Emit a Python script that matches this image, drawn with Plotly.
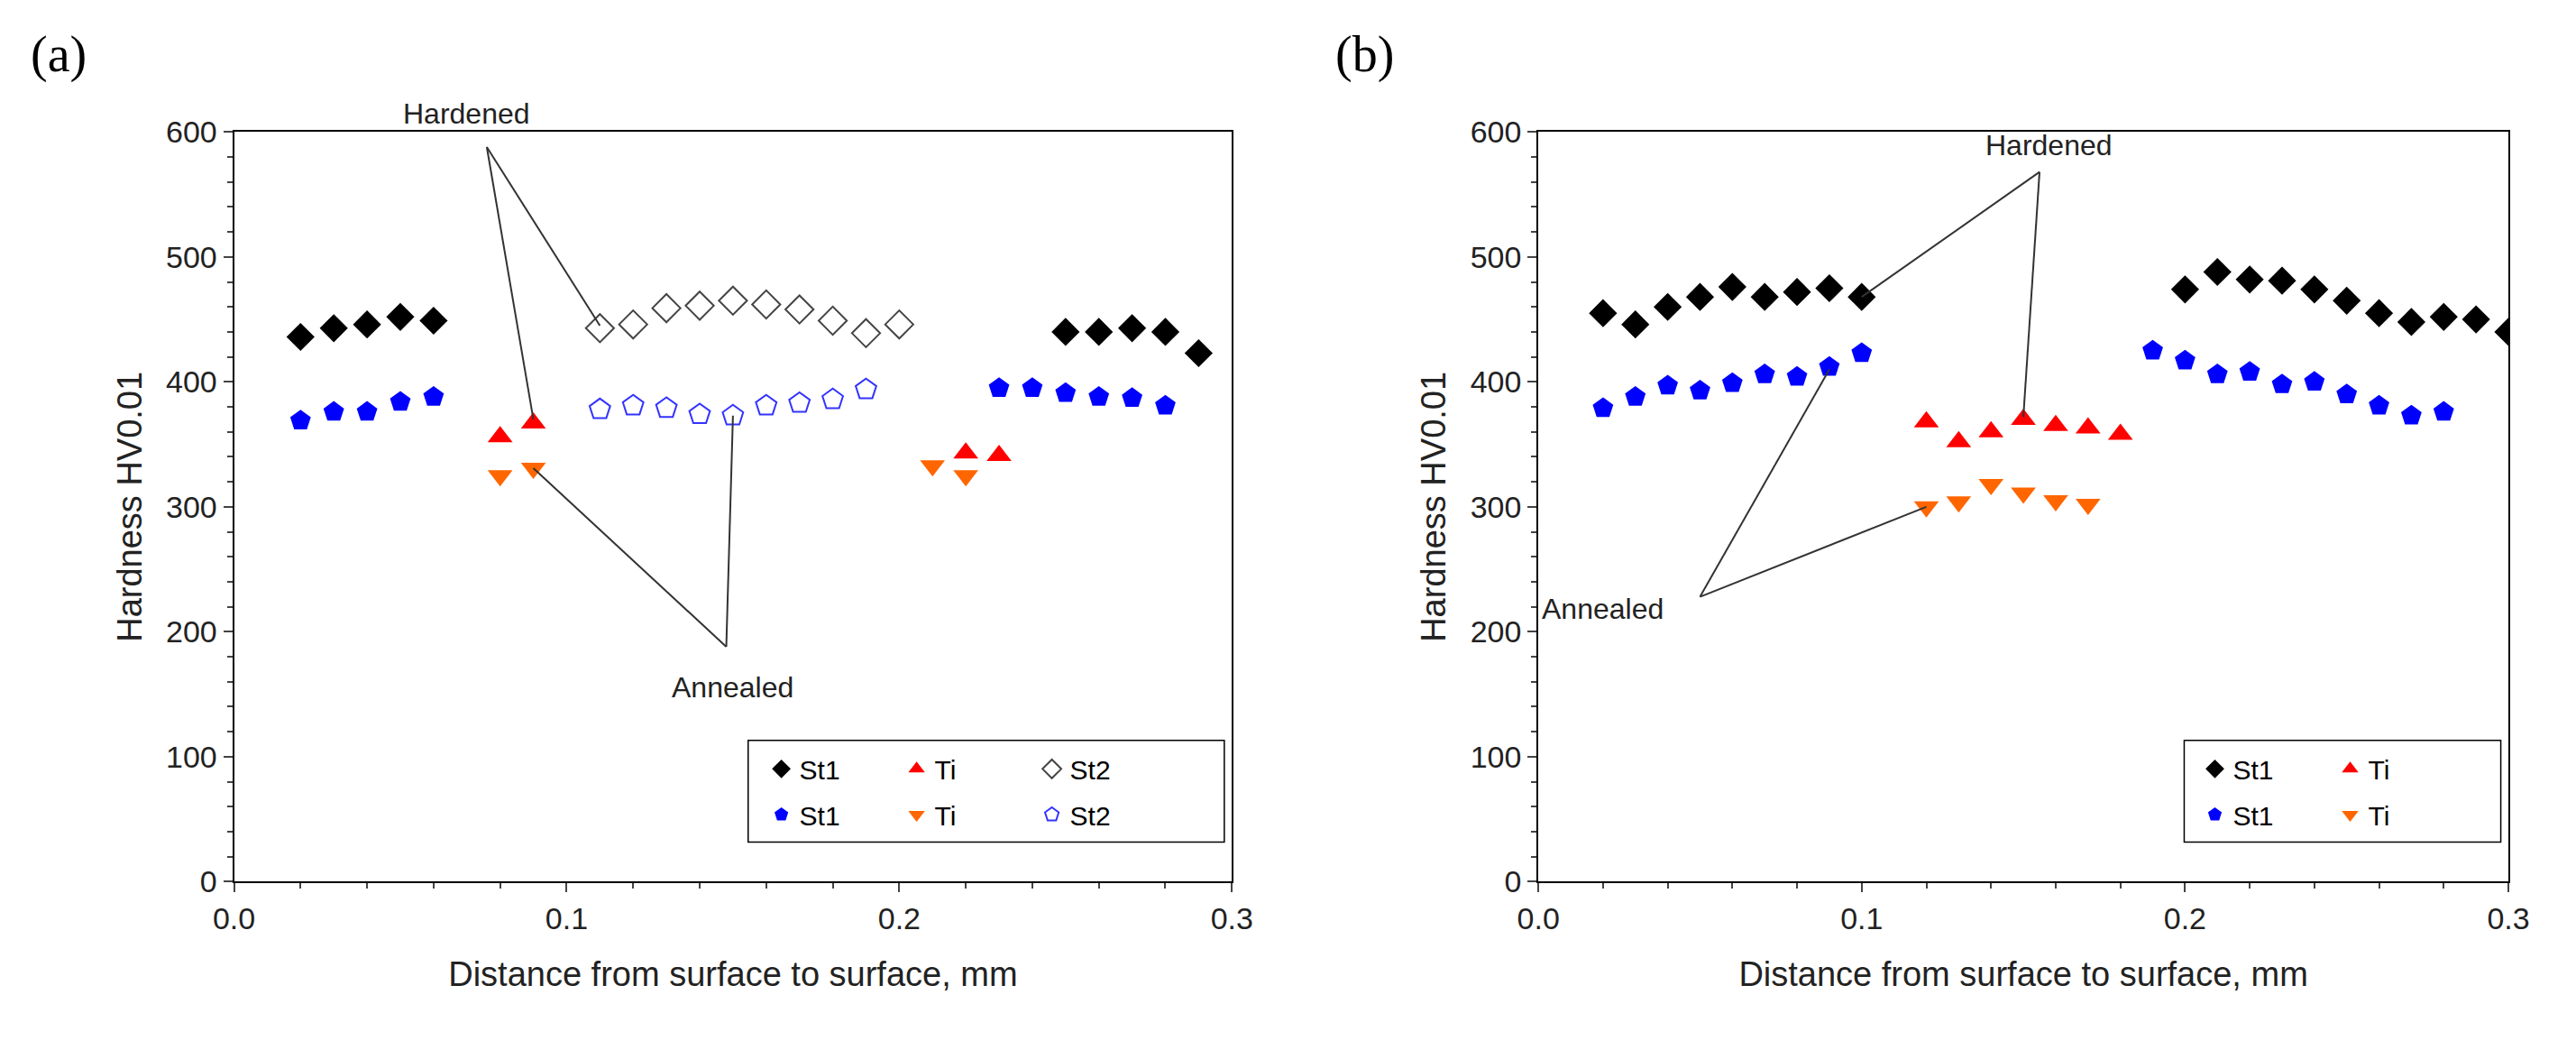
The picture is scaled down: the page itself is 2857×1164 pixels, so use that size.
import plotly.graph_objects as go

# panel (a)
a_st1_h_x = [0.02, 0.03, 0.04, 0.05, 0.06, 0.25, 0.26, 0.27, 0.28, 0.29]
a_st1_h_y = [436, 443, 446, 452, 449, 440, 440, 443, 440, 423]
a_st1_a_x = [0.02, 0.03, 0.04, 0.05, 0.06, 0.23, 0.24, 0.25, 0.26, 0.27, 0.28]
a_st1_a_y = [369, 376, 376, 384, 388, 395, 395, 391, 388, 387, 381]
a_ti_h_x = [0.08, 0.09, 0.22, 0.23]
a_ti_h_y = [356, 367, 343, 341]
a_ti_a_x = [0.08, 0.09, 0.21, 0.22]
a_ti_a_y = [325, 331, 333, 325]
a_st2_h_x = [0.11, 0.12, 0.13, 0.14, 0.15, 0.16, 0.17, 0.18, 0.19, 0.20]
a_st2_h_y = [443, 446, 459, 461, 465, 462, 458, 449, 439, 446]
a_st2_a_x = [0.11, 0.12, 0.13, 0.14, 0.15, 0.16, 0.17, 0.18, 0.19]
a_st2_a_y = [378, 381, 379, 374, 373, 381, 383, 386, 394]

# panel (b)
b_st1_h_x = [0.02, 0.03, 0.04, 0.05, 0.06, 0.07, 0.08, 0.09, 0.10,
             0.20, 0.21, 0.22, 0.23, 0.24, 0.25, 0.26, 0.27, 0.28, 0.29, 0.30]
b_st1_h_y = [455, 446, 460, 468, 476, 468, 472, 475, 468,
             474, 488, 482, 481, 474, 465, 455, 448, 452, 450, 440]
b_st1_a_x = [0.02, 0.03, 0.04, 0.05, 0.06, 0.07, 0.08, 0.09, 0.10,
             0.19, 0.20, 0.21, 0.22, 0.23, 0.24, 0.25, 0.26, 0.27, 0.28]
b_st1_a_y = [379, 388, 397, 393, 399, 406, 404, 412, 423,
             425, 417, 406, 408, 398, 400, 390, 381, 373, 376]
b_ti_h_x = [0.12, 0.13, 0.14, 0.15, 0.16, 0.17, 0.18]
b_ti_h_y = [368, 352, 360, 370, 365, 363, 358]
b_ti_a_x = [0.12, 0.13, 0.14, 0.15, 0.16, 0.17]
b_ti_a_y = [300, 304, 318, 311, 305, 302]

MS = 24
FONT = "Liberation Sans"

fig = go.Figure()


def add(x, y, name, symbol, color, xa, ya, legend, line_color=None):
    fig.add_trace(go.Scatter(
        x=x, y=y, mode="markers", name=name, xaxis=xa, yaxis=ya, legend=legend,
        marker=dict(symbol=symbol, size=MS, color=color,
                    line=dict(width=2 if line_color else 0, color=line_color or color))))


add(a_st1_h_x, a_st1_h_y, "St1", "diamond", "black", "x", "y", "legend")
add(a_ti_h_x, a_ti_h_y, "Ti", "triangle-up", "#ff0000", "x", "y", "legend")
add(a_st2_h_x, a_st2_h_y, "St2", "diamond-open", "#444444", "x", "y", "legend", "#444444")
add(a_st1_a_x, a_st1_a_y, "St1", "pentagon", "#0000ff", "x", "y", "legend2")
add(a_ti_a_x, a_ti_a_y, "Ti", "triangle-down", "#ff6600", "x", "y", "legend2")
add(a_st2_a_x, a_st2_a_y, "St2", "pentagon-open", "#3333ff", "x", "y", "legend2", "#3333ff")

add(b_st1_h_x, b_st1_h_y, "St1", "diamond", "black", "x2", "y2", "legend3")
add(b_ti_h_x, b_ti_h_y, "Ti", "triangle-up", "#ff0000", "x2", "y2", "legend3")
add(b_st1_a_x, b_st1_a_y, "St1", "pentagon", "#0000ff", "x2", "y2", "legend4")
add(b_ti_a_x, b_ti_a_y, "Ti", "triangle-down", "#ff6600", "x2", "y2", "legend4")

axis_common = dict(showline=True, mirror=True, linecolor="black", linewidth=2,
                   ticks="outside", ticklen=10, tickwidth=2, showgrid=False, zeroline=False,
                   tickfont=dict(size=34, family=FONT, color="#222"),
                   minor=dict(ticks="outside", ticklen=6, tickwidth=2))
xcommon = dict(axis_common, range=[0, 0.3], dtick=0.1, tickformat=".1f",
               title=dict(text="Distance from surface to surface, mm",
                          font=dict(size=38, family=FONT, color="#222"), standoff=30))
ycommon = dict(axis_common, range=[0, 600], dtick=100,
               title=dict(text="Hardness HV0.01", font=dict(size=38, family=FONT, color="#222")))

leg = dict(orientation="h", bgcolor="rgba(0,0,0,0)", font=dict(size=30, family=FONT, color="black"),
           itemwidth=30, entrywidth=105, xanchor="left", yanchor="middle", tracegroupgap=0)

fig.update_layout(
    width=2857, height=1164, plot_bgcolor="white", paper_bgcolor="white",
    margin=dict(l=0, r=0, t=0, b=0),
    xaxis=dict(xcommon, domain=[0.081, 0.475], anchor="y"),
    yaxis=dict(ycommon, domain=[0.156, 0.894], anchor="x"),
    xaxis2=dict(xcommon, domain=[0.596, 0.979], anchor="y2"),
    yaxis2=dict(ycommon, domain=[0.156, 0.894], anchor="x2"),
    legend=dict(leg, x=0.29, y=0.267),
    legend2=dict(leg, x=0.29, y=0.222),
    legend3=dict(leg, x=0.856, y=0.267),
    legend4=dict(leg, x=0.856, y=0.222),
    shapes=[
        dict(type="rect", xref="paper", yref="paper", x0=0.284, x1=0.472, y0=0.195, y1=0.295,
             line=dict(color="black", width=1.5)),
        dict(type="rect", xref="paper", yref="paper", x0=0.851, x1=0.976, y0=0.195, y1=0.295,
             line=dict(color="black", width=1.5)),
    ],
)

# callout lines
lines = [
    ("x", "y", 0.076, 588, 0.09, 370), ("x", "y", 0.076, 588, 0.11, 445),
    ("x", "y", 0.148, 188, 0.09, 331), ("x", "y", 0.148, 188, 0.15, 373),
    ("x2", "y2", 0.155, 568, 0.10, 468), ("x2", "y2", 0.155, 568, 0.15, 372),
    ("x2", "y2", 0.05, 228, 0.09, 410), ("x2", "y2", 0.05, 228, 0.12, 300),
]
for xr, yr, x0, y0, x1, y1 in lines:
    fig.add_shape(type="line", xref=xr, yref=yr, x0=x0, y0=y0, x1=x1, y1=y1,
                  line=dict(color="#333", width=2))

txt = dict(size=32, family=FONT, color="#222")
fig.add_annotation(x=0.07, y=1.0, xref="x", yref="y domain", text="Hardened", showarrow=False,
                   font=txt, yanchor="bottom")
fig.add_annotation(x=0.15, y=170, xref="x", yref="y", text="Annealed", showarrow=False, font=txt, yanchor="top")
fig.add_annotation(x=0.158, y=575, xref="x2", yref="y2", text="Hardened", showarrow=False, font=txt, yanchor="bottom")
fig.add_annotation(x=0.02, y=218, xref="x2", yref="y2", text="Annealed", showarrow=False, font=txt)

panel = dict(size=56, family="Liberation Serif", color="black")
fig.add_annotation(x=0.0, y=1.0, xref="paper", yref="paper", text="(a)", showarrow=False,
                   font=panel, xanchor="left", yanchor="top")
fig.add_annotation(x=0.515, y=1.0, xref="paper", yref="paper", text="(b)", showarrow=False,
                   font=panel, xanchor="left", yanchor="top")

fig.write_html("out.html")
